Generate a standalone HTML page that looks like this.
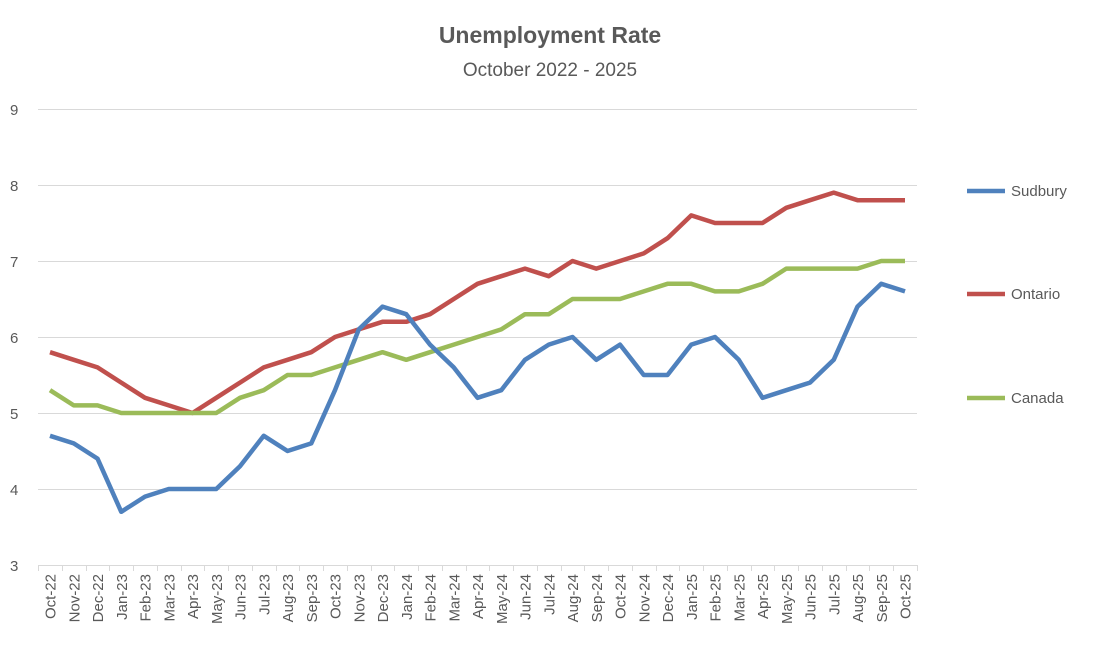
<!DOCTYPE html>
<html><head><meta charset="utf-8"><style>
body{margin:0;background:#fff;}
svg text{font-family:"Liberation Sans",Arial,sans-serif;fill:#595959;}
</style></head><body>
<svg id="s" width="1100" height="649" viewBox="0 0 1100 649" xmlns="http://www.w3.org/2000/svg">
<rect width="1100" height="649" fill="#fff"/>
<text x="550" y="43" text-anchor="middle" font-size="23" font-weight="bold">Unemployment Rate</text>
<text x="550" y="76" text-anchor="middle" font-size="19">October 2022 - 2025</text>
<g stroke="#d9d9d9" stroke-width="1">
<line x1="38" x2="917" y1="109.5" y2="109.5"/><line x1="38" x2="917" y1="185.5" y2="185.5"/>
<line x1="38" x2="917" y1="261.5" y2="261.5"/><line x1="38" x2="917" y1="337.5" y2="337.5"/>
<line x1="38" x2="917" y1="413.5" y2="413.5"/><line x1="38" x2="917" y1="489.5" y2="489.5"/>
<line x1="38" x2="917" y1="565.5" y2="565.5"/>
</g>
<g id="ticks" stroke="#d9d9d9"></g>
<g font-size="15">
<text x="10" y="115">9</text><text x="10" y="191">8</text><text x="10" y="267">7</text>
<text x="10" y="343">6</text><text x="10" y="419">5</text><text x="10" y="495">4</text><text x="10" y="571">3</text>
</g>
<g id="xl" font-size="15" text-anchor="end">
<text>Oct-22</text><text>Nov-22</text><text>Dec-22</text><text>Jan-23</text><text>Feb-23</text><text>Mar-23</text><text>Apr-23</text><text>May-23</text><text>Jun-23</text><text>Jul-23</text><text>Aug-23</text><text>Sep-23</text><text>Oct-23</text><text>Nov-23</text><text>Dec-23</text><text>Jan-24</text><text>Feb-24</text><text>Mar-24</text><text>Apr-24</text><text>May-24</text><text>Jun-24</text><text>Jul-24</text><text>Aug-24</text><text>Sep-24</text><text>Oct-24</text><text>Nov-24</text><text>Dec-24</text><text>Jan-25</text><text>Feb-25</text><text>Mar-25</text><text>Apr-25</text><text>May-25</text><text>Jun-25</text><text>Jul-25</text><text>Aug-25</text><text>Sep-25</text><text>Oct-25</text>
</g>
<polyline id="on" fill="none" stroke="#c0504d" stroke-width="4.5" stroke-linejoin="round"/>
<polyline id="ca" fill="none" stroke="#9bbb59" stroke-width="4.5" stroke-linejoin="round"/>
<polyline id="su" fill="none" stroke="#4f81bd" stroke-width="4.5" stroke-linejoin="round"/>
<line x1="967" x2="1005" y1="191" y2="191" stroke="#4f81bd" stroke-width="4.5"/>
<line x1="967" x2="1005" y1="294" y2="294" stroke="#c0504d" stroke-width="4.5"/>
<line x1="967" x2="1005" y1="398" y2="398" stroke="#9bbb59" stroke-width="4.5"/>
<g font-size="15"><text x="1011" y="196">Sudbury</text><text x="1011" y="299">Ontario</text><text x="1011" y="403">Canada</text></g>
</svg>
<script>
var su=[4.7,4.6,4.4,3.7,3.9,4.0,4.0,4.0,4.3,4.7,4.5,4.6,5.3,6.1,6.4,6.3,5.9,5.6,5.2,5.3,5.7,5.9,6.0,5.7,5.9,5.5,5.5,5.9,6.0,5.7,5.2,5.3,5.4,5.7,6.4,6.7,6.6];
var on=[5.8,5.7,5.6,5.4,5.2,5.1,5.0,5.2,5.4,5.6,5.7,5.8,6.0,6.1,6.2,6.2,6.3,6.5,6.7,6.8,6.9,6.8,7.0,6.9,7.0,7.1,7.3,7.6,7.5,7.5,7.5,7.7,7.8,7.9,7.8,7.8,7.8];
var ca=[5.3,5.1,5.1,5.0,5.0,5.0,5.0,5.0,5.2,5.3,5.5,5.5,5.6,5.7,5.8,5.7,5.8,5.9,6.0,6.1,6.3,6.3,6.5,6.5,6.5,6.6,6.7,6.7,6.6,6.6,6.7,6.9,6.9,6.9,6.9,7.0,7.0];
function X(i){return 50+i*23.75;}function Y(v){return 565-(v-3)*76;}
function pts(a){return a.map(function(v,i){return X(i)+','+Y(v)}).join(' ');}
document.getElementById('su').setAttribute('points',pts(su));
document.getElementById('on').setAttribute('points',pts(on));
document.getElementById('ca').setAttribute('points',pts(ca));
var t=document.getElementById('ticks'),ns='http://www.w3.org/2000/svg';
for(var i=0;i<=37;i++){var l=document.createElementNS(ns,'line');var x=Math.round(X(i)-11.875)+0.5;l.setAttribute('x1',x);l.setAttribute('x2',x);l.setAttribute('y1',565);l.setAttribute('y2',571);t.appendChild(l);}
var xl=document.getElementById('xl').children;
for(var i=0;i<xl.length;i++){var x=X(i)+5.5;xl[i].setAttribute('transform','translate('+x+',574) rotate(-90)');}
</script>
</body></html>
